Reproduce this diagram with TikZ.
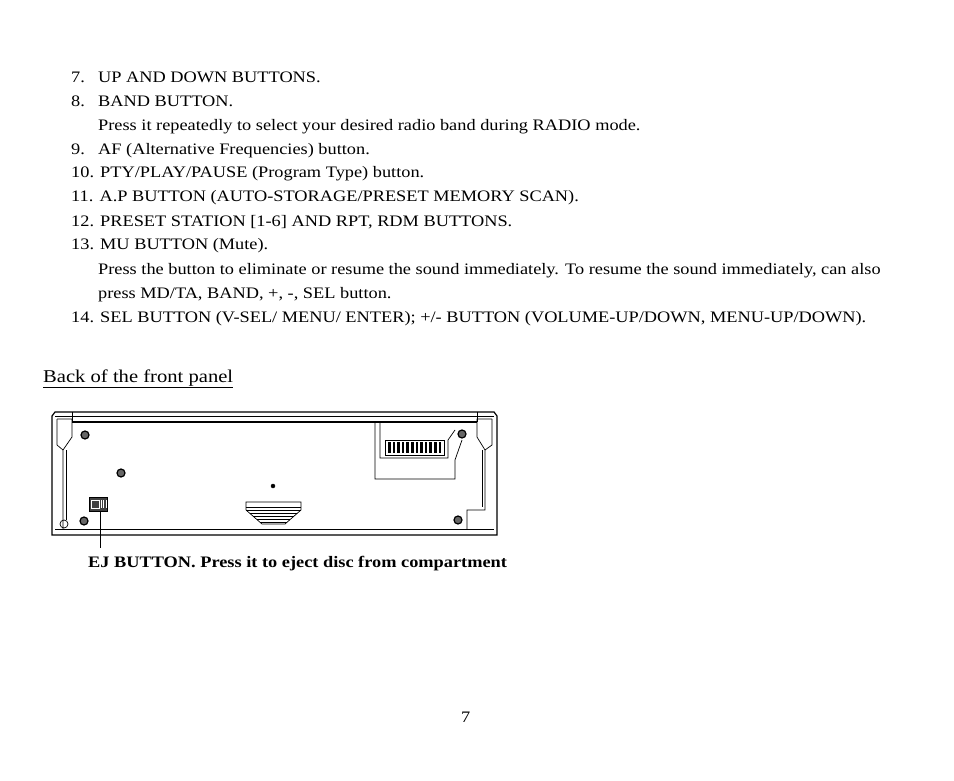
\documentclass[tikz,border=0pt]{standalone}
\usepackage{fontspec}
\setmainfont{Liberation Serif}[FakeStretch=1.145]
\begin{document}
\begin{tikzpicture}[x=1pt,y=-1pt,
  txt/.style={anchor=base west,inner sep=0,font=\fontsize{16}{18}\selectfont},
  ln/.style={line width=1.2pt},
  thin/.style={line width=0.7pt},
  screw/.style={circle,draw,line width=1.2pt,minimum size=8pt,inner sep=0,fill=black!60}]
\useasboundingbox (0,0) rectangle (954,781);
\fill[white] (0,0) rectangle (954,781);
% list
\node[txt] (n7) at (71,83) {7.};
\node[txt] (t7) at (98,83) {UP AND DOWN BUTTONS.};
\node[txt] (n8) at (71,107) {8.};
\node[txt] (t8) at (98,107) {BAND BUTTON.};
\node[txt] (t8b) at (98,131) {Press it repeatedly to select your desired radio band during RADIO mode.};
\node[txt] (n9) at (71,155) {9.};
\node[txt] (t9) at (98,155) {AF (Alternative Frequencies) button.};
\node[txt] (t10) at (71,178) {10. PTY/PLAY/PAUSE (Program Type) button.};
\node[txt] (t11) at (71,202) {11. A.P BUTTON (AUTO-STORAGE/PRESET MEMORY SCAN).};
\node[txt] (t12) at (71,226) {12. PRESET STATION [1-6] AND RPT, RDM BUTTONS.};
\node[txt] (t13) at (71,250) {13. MU BUTTON (Mute).};
\node[txt] (t13b) at (98,274) {Press the button to eliminate or resume the sound immediately. To resume the sound immediately, can also};
\node[txt] (t13c) at (98,298) {press MD/TA, BAND, +, -, SEL button.};
\node[txt] (t14) at (71,322) {14. SEL BUTTON (V-SEL/ MENU/ ENTER); +/- BUTTON (VOLUME-UP/DOWN, MENU-UP/DOWN).};
\node[txt,font=\fontsize{18}{20}\selectfont] (hd) at (43,382) {\underline{Back of the front panel}};
% panel
\draw[ln] (52,416) -- (52,535) -- (497,535) -- (497,416) -- (494,412) -- (55,412) -- cycle;
\draw[thin] (55,416) -- (494,416);
\draw[ln] (72,422) -- (477,422);
\draw[thin] (72,412) -- (72,422);
\draw[thin] (477,412) -- (477,422);
\draw[thin] (55,529) -- (494,529);
% left side details
\draw[thin] (57,419) -- (72,419) -- (72,437) -- (63,450) -- (63,529);
\draw[thin] (57,419) -- (57,445) -- (63,450);
\draw[thin] (66,450) -- (66,520);
% right side details
\draw[thin] (492,419) -- (477,419) -- (477,437) -- (485,450) -- (485,510) -- (467,510) -- (467,529);
\draw[thin] (492,419) -- (492,445) -- (485,450);
\draw[thin] (482,450) -- (482,507);
% connector area
\draw[thin] (375,422) -- (375,479) -- (455,479) -- (455,460) -- (462,440);
\draw[thin] (380,422) -- (380,458) -- (448,458) -- (448,440) -- (455,430);
\draw[thin] (385,440) rectangle (444,455);
\foreach \i in {0,...,11} \fill (388+\i*4.6,442) rectangle ++(2.6,11);
% screws
\node[screw] (s1) at (85,435) {};
\node[screw] (s2) at (121,473) {};
\node[screw] (s3) at (84,521) {};
\node[screw] (s4) at (458,520) {};
\node[screw] (s5) at (462,434) {};
\node[circle,draw,fill=black,minimum size=4pt,inner sep=0] (dot) at (273,486) {};
\draw[thin] (64,524) circle (4);
% trapezoid
\draw[thin] (246,502) -- (301,502) -- (301,510) -- (285,524) -- (262,524) -- (246,510) -- cycle;
\foreach \y/\a in {507/0,510/0,513/4,516/7,519/11,522/14} \draw[thin] (246+\a,\y) -- (301-\a,\y);
% EJ button
\node[draw,fill=black!75,line width=0.8pt,minimum width=18pt,minimum height=14pt,inner sep=0] (ej) at (98,504) {};
\draw[white,thin] (91,500) rectangle (99,508);
\foreach \x in {101,103.5,106} \draw[white,thin] (\x,500) -- (\x,508);
\coordinate (ejend) at (100,548);
\draw[thin] (100,511) -- (ejend);
\node[txt,font=\bfseries\fontsize{16}{18}\selectfont] (cap) at (88,567) {EJ BUTTON. Press it to eject disc from compartment};
\node[txt] (pg) at (461,722) {7};
\end{tikzpicture}
\end{document}
